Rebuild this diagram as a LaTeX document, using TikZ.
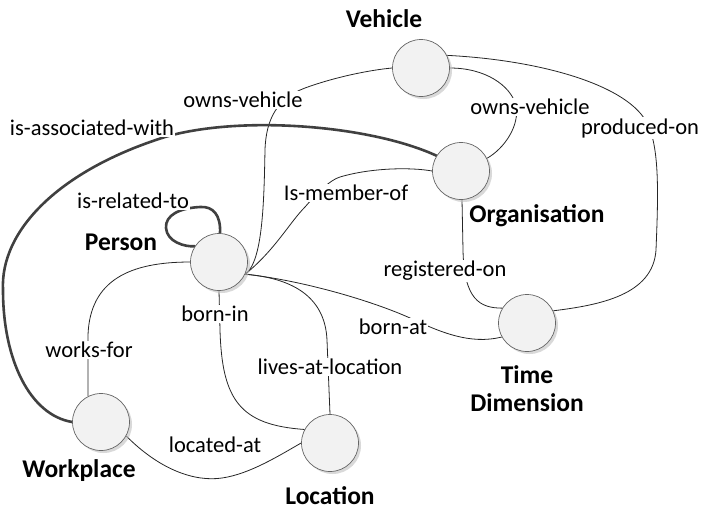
\documentclass[tikz,border=0pt]{standalone}
\usepackage{fontspec}
\setmainfont{Carlito}
\usetikzlibrary{shadows}
\pgfdeclarelayer{bg}
\pgfsetlayers{bg,main}
\begin{document}
\begin{tikzpicture}[x=1pt,y=-1pt,
  ent/.style={circle,minimum size=57pt,inner sep=0pt,fill=black!5,draw=black!60,line width=0.7pt,
    drop shadow={shadow xshift=2.5pt,shadow yshift=-2.5pt,fill=black!25,opacity=0.6}},
  rel/.style={line width=0.8pt,draw=black!85},
  thickrel/.style={line width=2.6pt,draw=black!75,line cap=round},
  lbl/.style={font=\fontsize{22.5}{26}\selectfont,fill=white,inner sep=1pt},
  title/.style={font=\fontsize{25.5}{28}\selectfont\bfseries,align=center,inner sep=0pt}]
\useasboundingbox (0,0) rectangle (704,515);
% entity circles
\node[ent] (V) at (421,68) {};
\node[ent] (O) at (461,171) {};
\node[ent] (P) at (219,262) {};
\node[ent] (T) at (527,323) {};
\node[ent] (W) at (101,422) {};
\node[ent] (L) at (330,443) {};
% connectors
\begin{pgfonlayer}{bg}
\draw[rel] (P.-25) .. controls (263,262) and (264,200) .. (265,150)
  .. controls (266,118) and (278,98) .. (305,88)
  .. controls (335,77) and (370,70) .. (V.180);
\draw[rel] (V.0) .. controls (485,68) and (510,85) .. (516,105)
  .. controls (520,125) and (505,148) .. (O.26);
\draw[rel] (V.26) .. controls (540,60) and (630,85) .. (648,125)
  .. controls (660,150) and (658,200) .. (656,250)
  .. controls (653,295) and (600,305) .. (T.25);
\draw[thickrel] (O.148) .. controls (370,125) and (240,115) .. (165,137)
  .. controls (60,170) and (0,230) .. (3,290)
  .. controls (3,360) and (30,415) .. (W.180);
\draw[rel] (P.-25) .. controls (275,250) and (290,222) .. (305,207)
  .. controls (318,192) and (330,180) .. (340,177)
  .. controls (370,168) and (410,167) .. (O.180);
\draw[thickrel] (P.88) .. controls (221,215) and (213,206) .. (200,207)
  .. controls (180,208) and (165,215) .. (166,228)
  .. controls (167,242) and (185,247) .. (P.147);
\draw[rel] (O.-88) -- (463,250) .. controls (464,300) and (480,308) .. (T.149);
\draw[rel] (P.-25) .. controls (300,280) and (370,300) .. (410,318)
  .. controls (440,332) and (470,345) .. (T.209);
\draw[rel] (P.-25) .. controls (290,278) and (325,295) .. (327,340) -- (L.90);
\draw[rel] (P.-90) -- (220,330) .. controls (222,400) and (240,425) .. (L.152);
\draw[rel] (P.180) .. controls (130,262) and (90,280) .. (88,335) -- (W.117);
\draw[rel] (W.-29) .. controls (160,470) and (195,482) .. (222,478)
  .. controls (250,474) and (280,455) .. (L.180);
\end{pgfonlayer}
% relation labels
\node[lbl] (l1) at (243,100) {owns-vehicle};
\node[lbl] (l2) at (530,107) {owns-vehicle};
\node[lbl] (l3) at (640,128) {produced-on};
\node[lbl] (l4) at (92,128) {is-associated-with};
\node[lbl] (l5) at (346,193) {Is-member-of};
\node[lbl] (l6) at (133,201) {is-related-to};
\node[lbl] (l7) at (445,271) {registered-on};
\node[lbl] (l8) at (215,314) {born-in};
\node[lbl] (l9) at (393,327) {born-at};
\node[lbl] (l10) at (89,350) {works-for};
\node[lbl] (l11) at (330,367) {lives-at-location};
\node[lbl] (l12) at (215,445) {located-at};
% entity titles
\node[title] (tV) at (384,19) {Vehicle};
\node[title] (tO) at (537,216) {Organisation};
\node[title] (tP) at (121,242) {Person};
\node[title] (tT) at (527,389) {Time\\Dimension};
\node[title] (tW) at (79,471) {Workplace};
\node[title] (tL) at (330,496) {Location};
\end{tikzpicture}
\end{document}
